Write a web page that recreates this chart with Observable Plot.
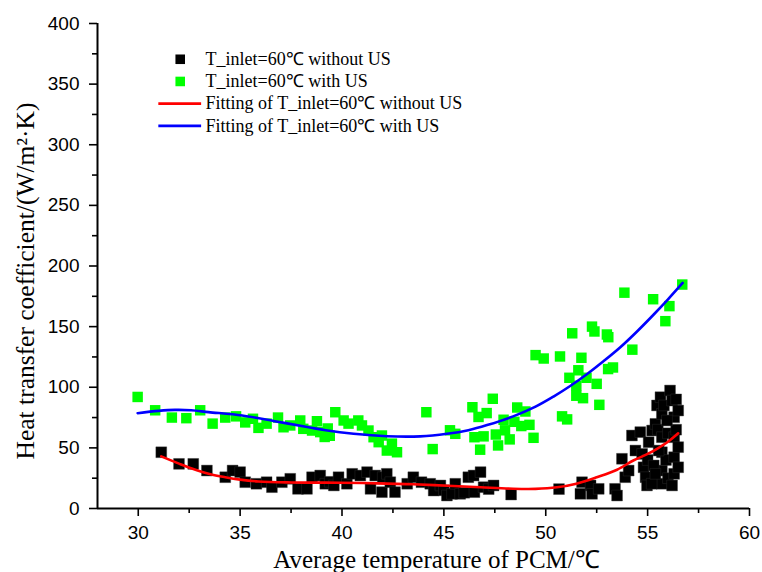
<!DOCTYPE html>
<html>
<head>
<meta charset="utf-8">
<script src="https://cdn.jsdelivr.net/npm/d3@7"></script>
<script src="https://cdn.jsdelivr.net/npm/@observablehq/plot@0.6"></script>
<style>
  html, body { margin: 0; padding: 0; background: #fff; }
  #chart { width: 762px; height: 572px; }
</style>
</head>
<body>
<div id="chart"></div>
<script>
// ---- Data ----
// Black squares: T_inlet=60℃ without US
const blackX = [31.13,32.0,32.7,33.37,34.27,34.63,35.0,35.25,35.8,36.3,36.56,37.05,37.46,37.84,38.28,38.53,38.93,39.18,39.4,39.6,39.83,40.24,40.5,40.9,41.23,41.4,41.63,41.96,42.0,42.2,42.37,42.6,43.2,43.5,43.9,44.33,44.5,44.83,45.0,45.15,45.4,45.56,45.8,46.0,46.2,46.46,46.8,46.5,46.95,47.2,47.44,48.3,50.65,51.78,51.7,52.2,52.27,52.6,53.4,53.5,53.9,53.74,54.07,54.23,54.64,54.4,54.73,54.8,54.9,54.97,55.0,55.05,55.22,55.38,55.46,55.5,55.63,55.7,55.7,55.7,55.7,55.7,55.8,55.9,56.0,56.0,56.1,56.2,56.3,56.3,56.3,56.3,56.2,56.4,56.4,56.5,56.5,56.5,55.95,55.54,55.3,55.2,55.38];
const blackY = [46.4,36.8,36.8,31.3,25.8,31.3,30.0,21.7,20.4,21.7,17.6,21.7,24.5,16.2,16.2,25.8,27.2,20.4,22.0,19.0,25.8,20.4,28.6,27.2,30.0,16.2,27.2,13.5,25.8,28.6,21.7,13.5,20.4,25.8,21.7,20.4,14.8,19.0,15.0,10.7,12.1,20.4,12.1,13.0,25.8,27.2,30.0,13.5,17.6,16.0,19.0,11.5,16.0,21.7,12.1,19.0,12.1,16.2,16.2,10.7,25.8,41.0,31.3,60.2,63.0,47.8,45.0,34.0,25.8,19.0,40.0,54.7,64.3,69.8,85.0,65.0,91.8,78.0,58.8,46.4,31.3,20.4,85.0,40.0,62.0,25.0,97.3,89.0,75.3,58.8,42.3,28.6,19.0,90.0,65.0,80.8,50.6,34.0,72.6,47.8,35.5,20.4,28.6];

// Green squares: T_inlet=60℃ with US
const greenX = [29.97,30.83,31.65,32.36,33.04,33.65,34.27,34.8,35.25,35.63,35.9,36.3,36.86,37.13,37.46,37.95,38.1,38.53,38.77,38.93,39.15,39.3,39.4,39.67,40.08,40.32,40.8,40.98,41.3,41.55,41.96,41.8,42.2,42.45,42.7,44.14,44.45,45.3,45.56,46.4,46.7,47.1,47.4,46.5,46.95,46.78,47.55,47.66,47.93,48.23,48.46,48.0,48.6,49.0,48.8,49.2,49.4,49.5,49.9,50.7,51.3,52.27,52.39,53.0,53.07,54.25,53.86,55.27,56.07,55.87,56.7,51.75,51.6,51.16,52.0,53.06,53.3,51.5,52.5,51.5,51.83,52.63,50.8,51.05];
const greenY = [92.0,81.0,75.0,74.5,81.0,70.0,75.0,76.0,71.0,74.0,66.5,70.0,75.0,67.0,68.5,72.6,65.7,64.3,72.0,63.0,59.0,66.0,60.0,79.4,72.6,70.0,72.6,68.5,64.3,58.8,60.2,54.7,47.8,53.5,46.4,79.4,49.0,64.5,61.6,83.5,75.5,78.7,90.5,58.8,59.5,48.5,61.0,52.0,73.2,57.0,71.5,64.5,83.3,80.0,68.0,69.0,58.3,126.5,123.7,125.4,144.5,150.0,146.0,143.5,141.3,131.0,178.0,172.6,166.9,154.5,184.7,124.3,114.0,107.8,107.8,115.0,116.3,101.2,102.8,93.0,91.0,85.5,76.0,73.5];

// Fitted curves
const redFitX = [31.13,32.0,32.63,33.5,34.27,35.0,35.9,37.5,39.2,41.0,42.2,43.5,45.2,46.8,48.4,49.5,50.55,51.5,52.5,53.5,54.3,55.0,55.46,56.0,56.5];
const redFitY = [43.0,37.0,33.0,28.5,25.8,23.8,22.3,21.5,21.3,21.0,20.5,20.0,18.8,17.5,16.3,16.2,17.5,20.5,25.8,32.0,39.6,45.0,49.2,55.0,62.0];
const blueFitX = [29.97,31.0,31.8,32.6,33.45,35.1,36.7,38.36,39.2,40.57,42.2,43.84,45.15,46.2,47.12,48.4,49.5,50.4,51.2,52.0,52.8,53.66,54.48,55.3,56.0,56.72];
const blueFitY = [78.6,80.5,81.3,81.0,79.5,76.7,72.0,67.0,64.5,61.6,59.6,59.5,61.6,64.6,68.8,76.0,84.0,92.5,101.0,110.5,121.0,133.0,146.0,160.0,172.5,186.0];

// Axis ticks
const xMajorTicks = [30,35,40,45,50,55,60];
const xMinorTicks = [32.5,37.5,42.5,47.5,52.5,57.5];
const yMajorTicks = [0,50,100,150,200,250,300,350,400];
const yMinorTicks = [25,75,125,175,225,275,325,375];

// Legend
const legendLabels = ["T_inlet=60℃ without US","T_inlet=60℃ with US","Fitting of T_inlet=60℃ without US","Fitting of T_inlet=60℃ with US"];
const legendKinds = ["square","square","line","line"];
const legendColors = ["#000000","#00ff00","#ff0000","#0000ff"];

const xTitle = "Average temperature of PCM/℃";
const yTitle = "Heat transfer coefficient/(W/m²·K)";

// ---- Build tables ----
const black = blackX.map((x,i) => ({x, y: blackY[i]}));
const green = greenX.map((x,i) => ({x, y: greenY[i]}));
const redFit = redFitX.map((x,i) => ({x, y: redFitY[i]}));
const blueFit = blueFitX.map((x,i) => ({x, y: blueFitY[i]}));

// legend layout (in data units of the chart)
const legTop = 370.5, legStep = 18.3, legSym = 32.06, legHalf = 1.05, legText = 33.3;
const legend = legendLabels.map((label,i) => ({
  label, kind: legendKinds[i], color: legendColors[i], y: legTop - i*legStep
}));

const serif = "'Liberation Serif','Times New Roman',serif";

const chart = Plot.plot({
  width: 762,
  height: 572,
  marginLeft: 97,
  marginRight: 13,
  marginTop: 23,
  marginBottom: 64,
  x: {domain: [28, 60]},
  y: {domain: [0, 400]},
  style: {fontFamily: "'Liberation Sans', Arial, sans-serif", fontSize: "19px", color: "black", background: "white", overflow: "visible"},
  marks: [
    Plot.axisY(yMajorTicks, {tickSize: 8, tickPadding: 10, strokeWidth: 1.6, fontSize: 19, label: null}),
    Plot.axisY(yMinorTicks, {tickSize: 5, strokeWidth: 1.6, tickFormat: () => "", label: null}),
    Plot.axisX(xMajorTicks, {tickSize: 8, tickPadding: 9, strokeWidth: 1.6, fontSize: 19, label: null}),
    Plot.axisX(xMinorTicks, {tickSize: 5, strokeWidth: 1.6, tickFormat: () => "", label: null}),
    Plot.ruleX([28], {y1: 0, y2: 400, stroke: "black", strokeWidth: 2}),
    Plot.ruleY([0], {x1: 28, x2: 60, stroke: "black", strokeWidth: 2}),
    Plot.dot(black, {x: "x", y: "y", symbol: "square", r: 6.1, fill: "#000000", stroke: "#333", strokeWidth: 0.4}),
    Plot.dot(green, {x: "x", y: "y", symbol: "square", r: 5.9, fill: "#00ff00"}),
    Plot.line(redFit, {x: "x", y: "y", stroke: "#ff0000", strokeWidth: 2.6, curve: "catmull-rom"}),
    Plot.line(blueFit, {x: "x", y: "y", stroke: "#0000ff", strokeWidth: 2.6, curve: "catmull-rom"}),
    // legend
    Plot.dot(legend.filter(d => d.kind === "square"), {x: () => legSym, y: "y", symbol: "square", r: 5.4, fill: "color"}),
    Plot.ruleY(legend.filter(d => d.kind === "line"), {y: "y", x1: () => legSym - legHalf, x2: () => legSym + legHalf, stroke: "color", strokeWidth: 2.6}),
    Plot.text(legend, {x: () => legText, y: "y", text: "label", textAnchor: "start", fontFamily: serif, fontSize: 18, fill: "black"}),
    // axis titles
    Plot.text([xTitle], {frameAnchor: "bottom", textAnchor: "middle", lineAnchor: "middle", dy: 51, dx: 13, fontFamily: serif, fontSize: 25, fill: "black"}),
    Plot.text([yTitle], {frameAnchor: "left", textAnchor: "middle", lineAnchor: "middle", rotate: -90, dx: -72, dy: 15, fontFamily: serif, fontSize: 25.5, fill: "black"})
  ]
});
document.getElementById("chart").appendChild(chart);
</script>
</body>
</html>
